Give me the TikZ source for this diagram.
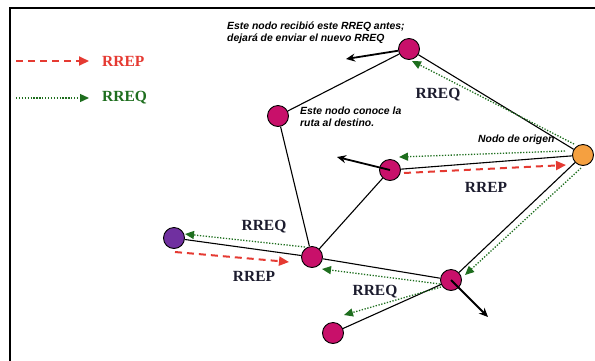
\documentclass[tikz,border=0pt]{standalone}
\usepackage{fontspec}
\setmainfont{Liberation Serif}
\newfontfamily\notefont{Liberation Sans}
\usetikzlibrary{arrows.meta}

\definecolor{nodemag}{HTML}{C8106A}
\definecolor{nodeorange}{HTML}{F5A040}
\definecolor{nodepurple}{HTML}{7030A0}
\definecolor{reprred}{HTML}{E53A32}
\definecolor{reqgreen}{HTML}{1E6E1E}
\definecolor{labeldark}{HTML}{1C1C2E}

\tikzset{
  x=1pt, y=-1pt,
  host/.style={circle, draw=black, line width=0.9pt, minimum size=21pt, inner sep=0pt, fill=nodemag},
  link/.style={draw=black, line width=1.1pt},
  rreq/.style={draw=reqgreen, line width=1.3pt, dash pattern=on 1.3pt off 1.6pt,
    -{Triangle[length=9pt,width=8pt,fill=reqgreen]}},
  rrep/.style={draw=reprred, line width=2pt, dash pattern=on 7pt off 5pt,
    -{Triangle[length=10pt,width=9pt,fill=reprred]}},
  moveon/.style={draw=black, line width=1.8pt, -{Stealth[length=9pt,width=8pt]}},
  msglabel/.style={font=\bfseries\fontsize{15.5}{18}\selectfont, text=labeldark, inner sep=0pt},
  note/.style={font=\notefont\bfseries\itshape\fontsize{10.4}{12.2}\selectfont, align=left,
    inner sep=0pt, anchor=north west}
}

\begin{document}
\begin{tikzpicture}
\useasboundingbox (0,0) rectangle (595,360);

% frame
\draw[line width=2pt, line cap=rect] (10,360) -- (10,8) -- (595,8);

% hosts
\node[host] (n1) at (409,49) {};
\node[host] (n2) at (278,116) {};
\node[host, fill=nodeorange] (org) at (583,155) {};
\node[host] (n3) at (390,170) {};
\node[host, fill=nodepurple] (pur) at (174,238) {};
\node[host] (n4) at (312,257) {};
\node[host] (n5) at (451,280) {};
\node[host] (n6) at (333,333) {};

% links
\draw[link] (n1) -- (n2);
\draw[link] (n1) -- (org);
\draw[link] (n2) -- (n4);
\draw[link] (n3) -- (org);
\draw[link] (n3) -- (n4);
\draw[link] (pur) -- (n4);
\draw[link] (n4) -- (n5);
\draw[link] (n5) -- (org);
\draw[link] (n5) -- (n6);

% end points of the message arrows
\coordinate (q1s) at (574,144);
\coordinate (q1e) at (412,61);
\coordinate (q2s) at (565,151);
\coordinate (q2e) at (399,157);
\coordinate (q3s) at (581,168);
\coordinate (q3e) at (465,275);
\coordinate (q4s) at (305,247);
\coordinate (q4e) at (185,234);
\coordinate (q5s) at (440,284);
\coordinate (q5e) at (322,269);
\coordinate (q6s) at (441,287);
\coordinate (q6e) at (344,315);
\coordinate (p1s) at (404,173);
\coordinate (p1e) at (566,165);
\coordinate (p2s) at (175,252);
\coordinate (p2e) at (289,262);
\coordinate (m1) at (346,59);
\coordinate (m3) at (337,157);
\coordinate (m5) at (488,317);

% route requests
\draw[rreq] (q1s) -- (q1e);
\draw[rreq] (q2s) -- (q2e);
\draw[rreq] (q3s) -- (q3e);
\draw[rreq] (q4s) -- (q4e);
\draw[rreq] (q5s) -- (q5e);
\draw[rreq] (q6s) -- (q6e);

% route replies
\draw[rrep] (p1s) -- (p1e);
\draw[rrep] (p2s) -- (p2e);

% onward forwarding
\draw[moveon] (n1) -- (m1);
\draw[moveon] (n3.center) -- (m3);
\draw[moveon] (n5.center) -- (m5);

% message labels
\node[msglabel] (l1) at (438,95) {RREQ};
\node[msglabel] (l2) at (486,187) {RREP};
\node[msglabel] (l3) at (264,227) {RREQ};
\node[msglabel] (l4) at (254,276) {RREP};
\node[msglabel] (l5) at (375,292) {RREQ};

% notes
\node[note] (t1) at (227,21.5) {Este nodo recibió este RREQ antes;\\dejará de enviar el nuevo RREQ};
\node[note] (t2) at (300,107) {Este nodo conoce la\\ruta al destino.};
\node[note] (t3) at (478,135) {Nodo de origen};

% legend
\coordinate (k1s) at (16,61);
\coordinate (k1e) at (89,61);
\coordinate (k2s) at (16,98);
\coordinate (k2e) at (89,98);
\draw[rrep] (k1s) -- (k1e);
\draw[rreq] (k2s) -- (k2e);
\node[msglabel, text=reprred, anchor=west] (k1) at (102,61) {RREP};
\node[msglabel, text=reqgreen, anchor=west] (k2) at (102,98) {RREQ};
\end{tikzpicture}
\end{document}
